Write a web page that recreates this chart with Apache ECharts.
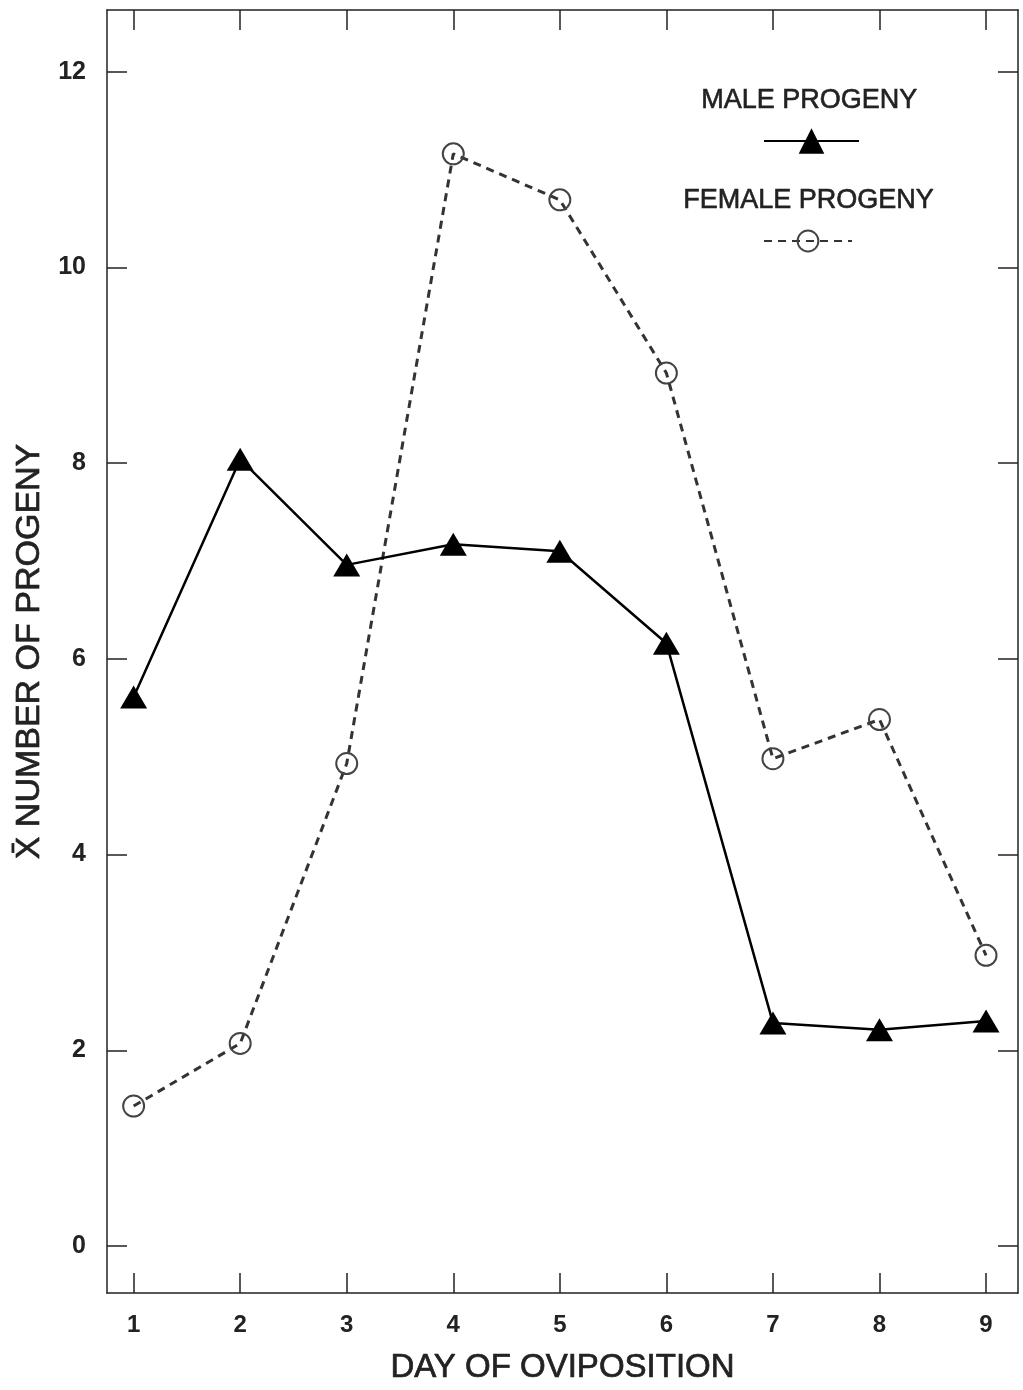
<!DOCTYPE html>
<html>
<head>
<meta charset="utf-8">
<script src="https://cdn.jsdelivr.net/npm/echarts@6/dist/echarts.min.js"></script>
<style>
  html, body { margin: 0; padding: 0; background: #fff; }
  #chart { width: 1023px; height: 1390px; }
</style>
</head>
<body>
<div id="chart"></div>
<script>
  // days of oviposition
  const days = [1, 2, 3, 4, 5, 6, 7, 8, 9];
  const maleProgeny = [5.61, 8.04, 6.96, 7.17, 7.10, 6.16, 2.28, 2.21, 2.30];
  const femaleProgeny = [1.43, 2.07, 4.93, 11.16, 10.69, 8.92, 4.98, 5.38, 2.97];
  const yTicks = [0, 2, 4, 6, 8, 10, 12];

  const font = 'Liberation Sans, Arial, sans-serif';
  const ink = '#222';

  const pairs = (vals) => days.map((d, i) => [d, vals[i]]);

  const chart = echarts.init(document.getElementById('chart'));

  const baseX = {
    type: 'value',
    min: 0.75,
    max: 9.3,
    splitLine: { show: false },
    axisLine: { show: true, onZero: false, lineStyle: { color: ink, width: 1.5 } },
    axisTick: { show: true, inside: true, length: 20, customValues: days, lineStyle: { color: ink, width: 1.5 } }
  };
  const baseY = {
    type: 'value',
    min: -0.48,
    max: 12.63,
    splitLine: { show: false },
    axisLine: { show: true, onZero: false, lineStyle: { color: ink, width: 1.5 } },
    axisTick: { show: true, inside: true, length: 20, customValues: yTicks, lineStyle: { color: ink, width: 1.5 } }
  };

  // a thin outline to make the regular face look a bit heavier, like the scan
  const nameStyle = { fontFamily: font, fontSize: 33, color: ink, textBorderColor: ink, textBorderWidth: 0.7 };

  chart.setOption({
    animation: false,
    backgroundColor: '#fff',
    grid: { left: 107, right: 5, top: 10, bottom: 97 },
    xAxis: [
      Object.assign({}, baseX, {
        position: 'bottom',
        name: 'DAY OF OVIPOSITION',
        nameLocation: 'middle',
        nameGap: 58,
        nameTextStyle: nameStyle,
        axisLabel: { customValues: days, margin: 20, fontFamily: font, fontSize: 24, fontWeight: 'bold', color: ink }
      }),
      Object.assign({}, baseX, { position: 'top', axisLabel: { show: false } })
    ],
    yAxis: [
      Object.assign({}, baseY, {
        position: 'left',
        name: 'X\u0304 NUMBER OF PROGENY',
        nameLocation: 'middle',
        nameGap: 58,
        nameTextStyle: Object.assign({}, nameStyle, { fontSize: 34 }),
        axisLabel: { customValues: yTicks, margin: 21, fontFamily: font, fontSize: 25, fontWeight: 'bold', color: ink }
      }),
      Object.assign({}, baseY, { position: 'right', axisLabel: { show: false } })
    ],
    legend: [
      {
        data: ['MALE PROGENY'],
        left: 758, top: 120,
        itemWidth: 95, itemHeight: 32,
        formatter: () => '',
        selectedMode: false
      },
      {
        data: ['FEMALE PROGENY'],
        left: 758, top: 223,
        itemWidth: 88, itemHeight: 26,
        formatter: () => '',
        selectedMode: false
      }
    ],
    graphic: [
      { type: 'text', left: 810 - 109, top: 87, style: { text: 'MALE PROGENY', font: '27px ' + font, fill: ink, stroke: ink, lineWidth: 0.6 } },
      { type: 'text', left: 810 - 127, top: 187, style: { text: 'FEMALE PROGENY', font: '27px ' + font, fill: ink, stroke: ink, lineWidth: 0.6 } }
    ],
    series: [
      {
        name: 'MALE PROGENY',
        type: 'line',
        data: pairs(maleProgeny),
        symbol: 'triangle',
        symbolSize: [27, 23],
        itemStyle: { color: '#000' },
        lineStyle: { color: '#000', width: 2.5 },
        z: 3
      },
      {
        name: 'FEMALE PROGENY',
        type: 'line',
        data: pairs(femaleProgeny),
        symbol: 'circle',
        symbolSize: 21,
        itemStyle: { color: 'transparent', borderColor: '#444', borderWidth: 2 },
        lineStyle: { color: '#333', width: 3, type: [8, 6] },
        z: 2
      }
    ]
  });
</script>
</body>
</html>
